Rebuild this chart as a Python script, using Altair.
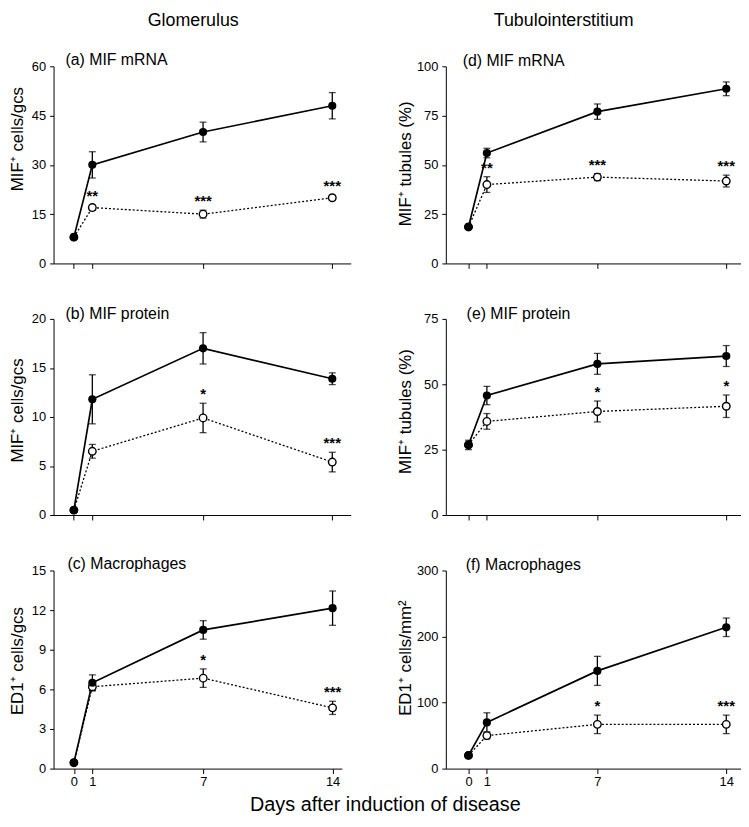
import altair as alt
import pandas as pd

FONT = "Liberation Sans"

days = [0, 1, 7, 14]

# Panel values: filled (solid line) and open (dotted line) series, mean and SEM
a_filled = [8, 30, 40, 48]
a_filled_err = [0, 4, 3, 4]
a_open = [8, 17, 15, 20]
a_open_err = [0, 0.8, 1.2, 0.7]
a_stars = ["", "**", "***", "***"]

b_filled = [0.5, 11.8, 17, 13.9]
b_filled_err = [0, 2.5, 1.6, 0.6]
b_open = [0.5, 6.5, 9.9, 5.4]
b_open_err = [0, 0.7, 1.5, 1.0]
b_stars = ["", "", "*", "***"]

c_filled = [0.45, 6.5, 10.5, 12.15]
c_filled_err = [0, 0.6, 0.7, 1.3]
c_open = [0.45, 6.2, 6.85, 4.6]
c_open_err = [0, 0.3, 0.7, 0.5]
c_stars = ["", "", "*", "***"]

d_filled = [18.5, 56, 77, 88.6]
d_filled_err = [0, 2.4, 3.9, 3.5]
d_open = [18.5, 40, 43.8, 41.8]
d_open_err = [0, 4, 1.8, 3]
d_stars = ["", "**", "***", "***"]

e_filled = [26.8, 45.7, 57.8, 60.8]
e_filled_err = [1.8, 3.5, 4, 4]
e_open = [26.8, 35.8, 39.6, 41.6]
e_open_err = [0, 3, 4, 4.3]
e_stars = ["", "", "*", "*"]

f_filled = [20, 70, 148, 214]
f_filled_err = [0, 14.5, 22, 14]
f_open = [20, 50, 67, 67]
f_open_err = [0, 5, 14, 14]
f_stars = ["", "", "*", "***"]

panels = {
    "a": dict(label="(a) MIF mRNA", ytitle="MIF\u207a cells/gcs", ydom=[0, 60], yticks=[0, 15, 30, 45, 60],
              filled=a_filled, ferr=a_filled_err, open=a_open, oerr=a_open_err, stars=a_stars),
    "b": dict(label="(b) MIF protein", ytitle="MIF\u207a cells/gcs", ydom=[0, 20], yticks=[0, 5, 10, 15, 20],
              filled=b_filled, ferr=b_filled_err, open=b_open, oerr=b_open_err, stars=b_stars),
    "c": dict(label="(c) Macrophages", ytitle="ED1\u207a cells/gcs", ydom=[0, 15], yticks=[0, 3, 6, 9, 12, 15],
              filled=c_filled, ferr=c_filled_err, open=c_open, oerr=c_open_err, stars=c_stars),
    "d": dict(label="(d) MIF mRNA", ytitle="MIF\u207a tubules (%)", ydom=[0, 100], yticks=[0, 25, 50, 75, 100],
              filled=d_filled, ferr=d_filled_err, open=d_open, oerr=d_open_err, stars=d_stars),
    "e": dict(label="(e) MIF protein", ytitle="MIF\u207a tubules (%)", ydom=[0, 75], yticks=[0, 25, 50, 75],
              filled=e_filled, ferr=e_filled_err, open=e_open, oerr=e_open_err, stars=e_stars),
    "f": dict(label="(f) Macrophages", ytitle="ED1\u207a cells/mm\u00b2", ydom=[0, 300], yticks=[0, 100, 200, 300],
              filled=f_filled, ferr=f_filled_err, open=f_open, oerr=f_open_err, stars=f_stars),
}

col_headers = {"a": "Glomerulus", "d": "Tubulointerstitium"}
x_title = "Days after induction of disease"


def text_layer(txt, x, y, size, align="left", baseline="alphabetic"):
    return alt.Chart(pd.DataFrame({"t": [txt]})).mark_text(
        align=align, baseline=baseline, fontSize=size, font=FONT, color="black"
    ).encode(x=alt.value(x), y=alt.value(y), text="t:N")


def make_panel(key, left_col, bottom_row, width, height, xdom, label_x, label_y, title_y):
    p = panels[key]
    rows = []
    for i, d in enumerate(days):
        rows.append(dict(day=d, series="filled", mean=p["filled"][i],
                         lo=p["filled"][i] - p["ferr"][i], hi=p["filled"][i] + p["ferr"][i], star=""))
        rows.append(dict(day=d, series="open", mean=p["open"][i],
                         lo=p["open"][i] - p["oerr"][i], hi=p["open"][i] + p["oerr"][i], star=p["stars"][i]))
    df = pd.DataFrame(rows)

    xaxis = alt.Axis(values=days, labels=bottom_row, title=None, tickSize=5, labelPadding=2,
                     labelFontSize=13, grid=False)
    x = alt.X("day:Q", scale=alt.Scale(domain=xdom, nice=False, zero=False), axis=xaxis)
    yaxis = alt.Axis(values=p["yticks"], title=p["ytitle"], titleX=(-27 if left_col else -32),
                     titleY=title_y, grid=False, tickSize=4, labelPadding=4)
    yscale = alt.Scale(domain=p["ydom"], nice=False, zero=True)

    def Y(field):
        return alt.Y(f"{field}:Q", scale=yscale, axis=yaxis)

    base = alt.Chart(df).encode(x=x)
    op = base.transform_filter(alt.datum.series == "open")
    fi = base.transform_filter(alt.datum.series == "filled")

    open_line = op.mark_line(color="black", strokeWidth=1.3, strokeDash=[2, 2]).encode(y=Y("mean"))
    filled_line = fi.mark_line(color="black", strokeWidth=1.7).encode(y=Y("mean"))

    def errs(src):
        r = src.mark_rule(color="black", strokeWidth=1.3).encode(y=Y("lo"), y2="hi:Q")
        t1 = src.mark_tick(color="black", orient="horizontal", size=7, thickness=1.3).encode(y=Y("lo"))
        t2 = src.mark_tick(color="black", orient="horizontal", size=7, thickness=1.3).encode(y=Y("hi"))
        return [r, t1, t2]

    open_pts = op.mark_point(shape="circle", filled=True, fill="white", stroke="black",
                             strokeWidth=1.4, size=58, opacity=1).encode(y=Y("mean"))
    filled_pts = fi.mark_point(shape="circle", filled=True, color="black", size=68,
                               opacity=1).encode(y=Y("mean"))
    stars = op.transform_filter(alt.datum.star != "").mark_text(
        baseline="alphabetic", dy=-4, fontSize=15, fontWeight="bold", font=FONT, color="black"
    ).encode(y=Y("hi"), text="star:N")

    layers = [open_line, filled_line] + errs(op) + errs(fi) + [open_pts, filled_pts, stars]
    layers.append(text_layer(p["label"], label_x, label_y, 16))
    if key in col_headers:
        hx = 141 if left_col else 119
        layers.append(text_layer(col_headers[key], hx, -55, 18, align="center", baseline="top"))
    if key == "c":
        layers.append(text_layer(x_title, 335, 243, 20, align="center"))
    return alt.layer(*layers).properties(width=width, height=height)


L_DOM = [-1.1, 15.0]
R_DOM = [-1.23, 14.8]

pa = make_panel("a", True, False, 300, 199, L_DOM, 12, -1, 73)
pd_ = make_panel("d", False, False, 298, 199, R_DOM, 17, 0, 98)
pb = make_panel("b", True, False, 300, 198, L_DOM, 12, 0, 92)
pe = make_panel("e", False, False, 298, 198, R_DOM, 21, 0, 93)
pc = make_panel("c", True, True, 291, 200, [-1.1, 14.5], 14, -2, 91)
pf = make_panel("f", False, True, 298, 200, R_DOM, 20, -1, 88)

chart = alt.concat(
    pa, pd_, pb, pe, pc, pf,
    columns=2,
    spacing={"row": 56, "column": 96},
    bounds="flush",
).properties(padding=0).configure_view(stroke=None).configure_axis(
    domainColor="black", tickColor="black", labelColor="black", titleColor="black",
    labelFont=FONT, titleFont=FONT, labelFontSize=13, titleFontSize=17,
    titleFontWeight="normal", domainWidth=1, tickWidth=1,
)

chart.save("out.html", embed_options={"renderer": "svg", "actions": False})
